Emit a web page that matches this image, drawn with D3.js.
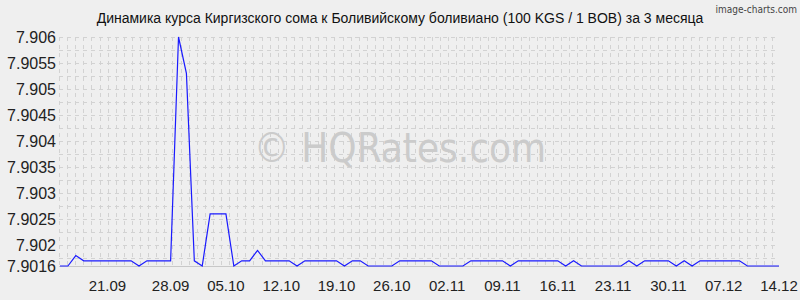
<!DOCTYPE html>
<html>
<head>
<meta charset="utf-8">
<script src="https://cdn.jsdelivr.net/npm/d3@7"></script>
<style>
  body { margin: 0; background: #efefef; }
  svg { display: block; font-family: "Liberation Sans", Arial, sans-serif; }
</style>
</head>
<body>
<svg id="chart" width="800" height="300"></svg>
<script>
// KGS/BOB rate, one point per day, 14.09 .. 14.12
const rates = [
  7.9016, 7.9016, 7.9018, 7.9017, 7.9017, 7.9017, 7.9017, 7.9017, 7.9017, 7.9017,
  7.9016, 7.9017, 7.9017, 7.9017, 7.9017, 7.9060, 7.9053, 7.9017, 7.9016, 7.9026,
  7.9026, 7.9026, 7.9016, 7.9017, 7.9017, 7.9019, 7.9017, 7.9017, 7.9017, 7.9017,
  7.9016, 7.9017, 7.9017, 7.9017, 7.9017, 7.9017, 7.9016, 7.9017, 7.9017, 7.9016,
  7.9016, 7.9016, 7.9016, 7.9017, 7.9017, 7.9017, 7.9017, 7.9017, 7.9016, 7.9016,
  7.9016, 7.9016, 7.9017, 7.9017, 7.9017, 7.9017, 7.9017, 7.9016, 7.9017, 7.9017,
  7.9017, 7.9017, 7.9017, 7.9017, 7.9016, 7.9017, 7.9016, 7.9016, 7.9016, 7.9016,
  7.9016, 7.9016, 7.9017, 7.9016, 7.9017, 7.9017, 7.9017, 7.9017, 7.9016, 7.9017,
  7.9016, 7.9017, 7.9017, 7.9017, 7.9017, 7.9017, 7.9017, 7.9016, 7.9016, 7.9016,
  7.9016, 7.9016
];
const xTickIdx = [6, 14, 21, 28, 35, 42, 49, 56, 63, 70, 77, 84, 91];
const xTickLabels = ['21.09', '28.09', '05.10', '12.10', '19.10', '26.10', '02.11',
                     '09.11', '16.11', '23.11', '30.11', '07.12', '14.12'];
const yTicks = [7.9016, 7.902, 7.9025, 7.903, 7.9035, 7.904, 7.9045, 7.905, 7.9055, 7.906];
const yMin = 7.9016, yMax = 7.906;

const title = 'Динамика курса Киргизского сома к Боливийскому боливиано (100 KGS / 1 BOB) за 3 месяца';

const svg = d3.select('#chart');
const mLeft = 60, mRight = 779, mTop = 37, mBottom = 266;

const x = d3.scaleLinear().domain([0, rates.length - 1]).range([mLeft, mRight]);
const y = d3.scaleLinear().domain([yMin, yMax]).range([mBottom, mTop]);

// grid: horizontal every 0.00025, vertical every ~1.125% of width
const hGrid = d3.range(yMax, yMin, -0.00025);
const gx = d3.scaleLinear().domain([0, 1]).range([mLeft - 1, mRight]);
const vGrid = d3.range(0, 1.0001, 0.01125);

const grid = svg.append('g')
    .style('stroke', '#d2d2d2')
    .style('stroke-width', '1px')
    .attr('stroke-dasharray', '4 4');
grid.selectAll('line.h')
    .data(hGrid)
  .enter().append('line')
    .attr('class', 'h')
    .attr('x1', mLeft - 1).attr('x2', mRight)
    .attr('y1', d => Math.round(y(d)) + 0.5)
    .attr('y2', d => Math.round(y(d)) + 0.5);
grid.selectAll('line.v')
    .data(vGrid)
  .enter().append('line')
    .attr('class', 'v')
    .attr('x1', d => Math.round(gx(d)) + 0.5)
    .attr('x2', d => Math.round(gx(d)) + 0.5)
    .attr('y1', mTop).attr('y2', mBottom);
svg.append('line')
    .attr('x1', mLeft - 1).attr('x2', mRight)
    .attr('y1', Math.round(y(yMin)) + 0.5).attr('y2', Math.round(y(yMin)) + 0.5)
    .style('stroke', '#c8c8c8');

// watermark
svg.append('text')
    .attr('x', 400)
    .attr('y', 162)
    .attr('text-anchor', 'middle')
    .style('font-family', '"DejaVu Sans Condensed", "DejaVu Sans", sans-serif')
    .style('font-size', '40px')
    .style('fill', '#cbcbcb')
    .text('© HQRates.com');

// series
const lineGen = d3.line()
    .x((d, i) => x(i))
    .y(d => y(d));
svg.append('path')
    .attr('d', lineGen(rates))
    .style('fill', 'none')
    .style('stroke', '#1a1aff')
    .style('stroke-width', '1.2px');

// y labels
svg.append('g')
    .selectAll('text')
    .data(yTicks)
  .enter().append('text')
    .attr('x', 56)
    .attr('y', d => y(d) + 6)
    .attr('text-anchor', 'end')
    .style('font-size', '16px')
    .style('fill', '#222')
    .text(d => String(d));

// x labels
svg.append('g')
    .selectAll('text')
    .data(xTickIdx)
  .enter().append('text')
    .attr('x', d => x(d))
    .attr('y', 291)
    .attr('text-anchor', 'middle')
    .style('font-size', '15px')
    .style('fill', '#222')
    .text((d, i) => xTickLabels[i]);

svg.append('text')
    .attr('x', 400)
    .attr('y', 23)
    .attr('text-anchor', 'middle')
    .style('font-size', '14px')
    .style('fill', '#111')
    .text(title);

svg.append('text')
    .attr('x', 797)
    .attr('y', 13)
    .attr('text-anchor', 'end')
    .style('font-family', '"DejaVu Sans Condensed", "DejaVu Sans", sans-serif')
    .style('font-size', '10px')
    .style('fill', '#444')
    .text('image-charts.com');
</script>
</body>
</html>
